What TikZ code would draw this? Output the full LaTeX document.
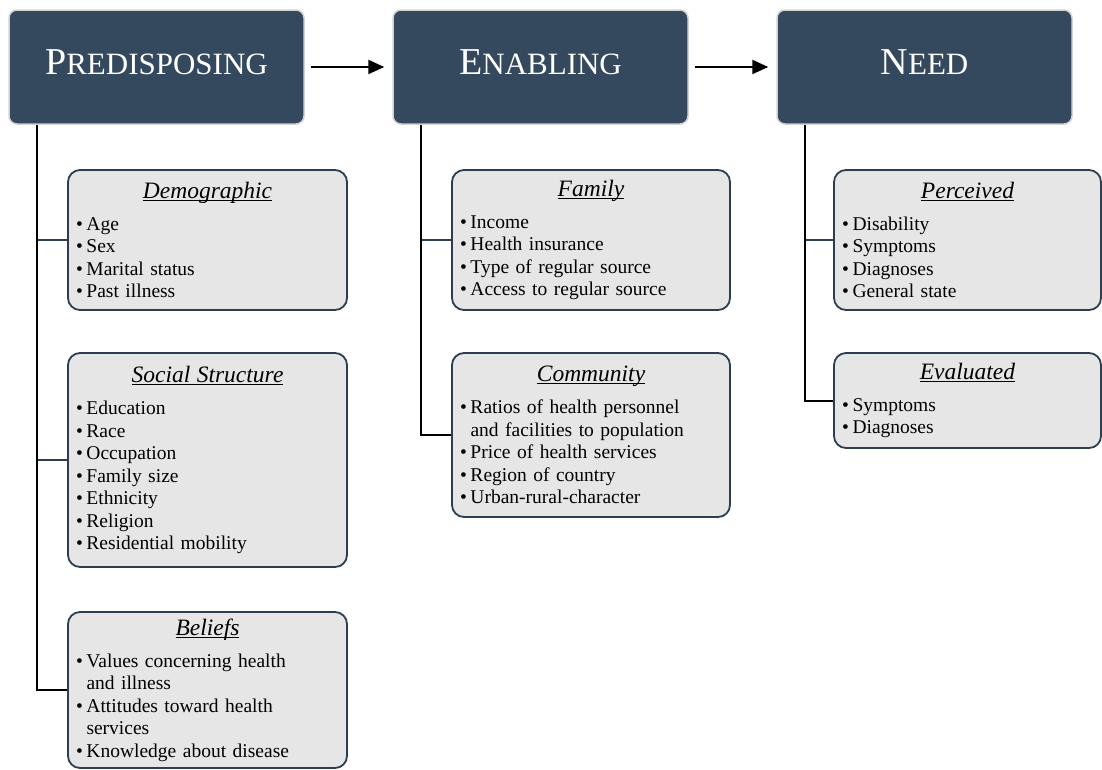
\documentclass[tikz,border=0pt]{standalone}
\usepackage{fontspec}
\setmainfont{Liberation Serif}
\usetikzlibrary{arrows.meta,calc}
\definecolor{hdr}{HTML}{34495E}
\definecolor{bxfill}{HTML}{E6E6E6}
\definecolor{bxline}{HTML}{2C3E50}
\newcommand\hsc[2]{{\fontsize{38}{40}\selectfont #1}{\fontsize{31}{33}\selectfont #2}}
\newcommand\myul[1]{\setbox0=\hbox{#1}\rlap{\rule[-2.5pt]{\wd0}{1.1pt}}\box0}
\newcommand\btitle[1]{\makebox[\linewidth][c]{\fontsize{23.5}{22.5}\selectfont\itshape\myul{#1}}}
\newcommand\itm[1]{\makebox[10.5pt][l]{•}#1}
\newcommand\cnt[1]{\hspace*{10.5pt}#1}
\tikzset{
  hbox/.style={fill=hdr, draw=gray!35, line width=1.5pt, rounded corners=8pt,
    minimum width=295pt, minimum height=114pt, text=white, inner sep=0pt, text depth=9pt},
  cbox/.style={draw=bxline, fill=bxfill, line width=1.8pt, rounded corners=12pt,
    align=left, inner xsep=8pt, inner ysep=0pt, font=\fontsize{19.5}{22.5}\selectfont},
  arr/.style={line width=2.2pt, -{Triangle[length=16pt,width=14pt]}},
  trunk/.style={line width=2pt, black},
  branch/.style={line width=2pt, bxline},
}
\begin{document}
\begin{tikzpicture}[x=1pt,y=1pt]
\useasboundingbox (0,0) rectangle (1102,-769);
% headers
\node[hbox] (pred) at (156.5,-67) {\hsc{P}{REDISPOSING}};
\node[hbox] (enab) at (540.5,-67) {\hsc{E}{NABLING}};
\node[hbox] (need) at (924.5,-67) {\hsc{N}{EED}};
\draw[arr] ([xshift=6pt]pred.east) -- ([xshift=-8pt]enab.west);
\draw[arr] ([xshift=6pt]enab.east) -- ([xshift=-8pt]need.west);
% content boxes
\node[cbox, text width=263pt, minimum height=140pt] (demo) at (207.5,-240)
  {\btitle{Demographic}\\[9.5pt]\itm{Age}\\\itm{Sex}\\\itm{Marital status}\\\itm{Past illness}};
\node[cbox, text width=263pt, minimum height=214pt] (soc) at (207.5,-460)
  {\btitle{Social Structure}\\[9.5pt]\itm{Education}\\\itm{Race}\\\itm{Occupation}\\\itm{Family size}\\\itm{Ethnicity}\\\itm{Religion}\\\itm{Residential mobility}};
\node[cbox, text width=263pt, minimum height=156pt] (bel) at (207.5,-690)
  {\btitle{Beliefs}\\[9.5pt]\itm{Values concerning health}\\\cnt{and illness}\\\itm{Attitudes toward health}\\\cnt{services}\\\itm{Knowledge about disease}};
\node[cbox, text width=262pt, minimum height=140pt] (fam) at (591,-240)
  {\btitle{Family}\\[9.5pt]\itm{Income}\\\itm{Health insurance}\\\itm{Type of regular source}\\\itm{Access to regular source}};
\node[cbox, text width=262pt, minimum height=164pt] (com) at (591,-435)
  {\btitle{Community}\\[9.5pt]\itm{Ratios of health personnel}\\\cnt{and facilities to population}\\\itm{Price of health services}\\\itm{Region of country}\\\itm{Urban-rural-character}};
\node[cbox, text width=251pt, minimum height=140pt] (perc) at (967.5,-240)
  {\btitle{Perceived}\\[9.5pt]\itm{Disability}\\\itm{Symptoms}\\\itm{Diagnoses}\\\itm{General state}};
\node[cbox, text width=251pt, minimum height=95pt] (eval) at (967.5,-400.5)
  {\btitle{Evaluated}\\[9.5pt]\itm{Symptoms}\\\itm{Diagnoses}};
% trunks and branches
\coordinate (p0) at ([xshift=29pt]pred.south west);
\coordinate (e0) at ([xshift=29pt]enab.south west);
\coordinate (n0) at ([xshift=29pt]need.south west);
\draw[branch] (p0 |- demo.west) -- (demo.west);
\draw[branch] (p0 |- soc.west) -- (soc.west);
\draw[trunk] (p0) |- (bel.west);
\draw[branch] (e0 |- fam.west) -- (fam.west);
\draw[trunk] (e0) |- (com.west);
\draw[branch] (n0 |- perc.west) -- (perc.west);
\draw[trunk] (n0) |- (eval.west);
\end{tikzpicture}
\end{document}
